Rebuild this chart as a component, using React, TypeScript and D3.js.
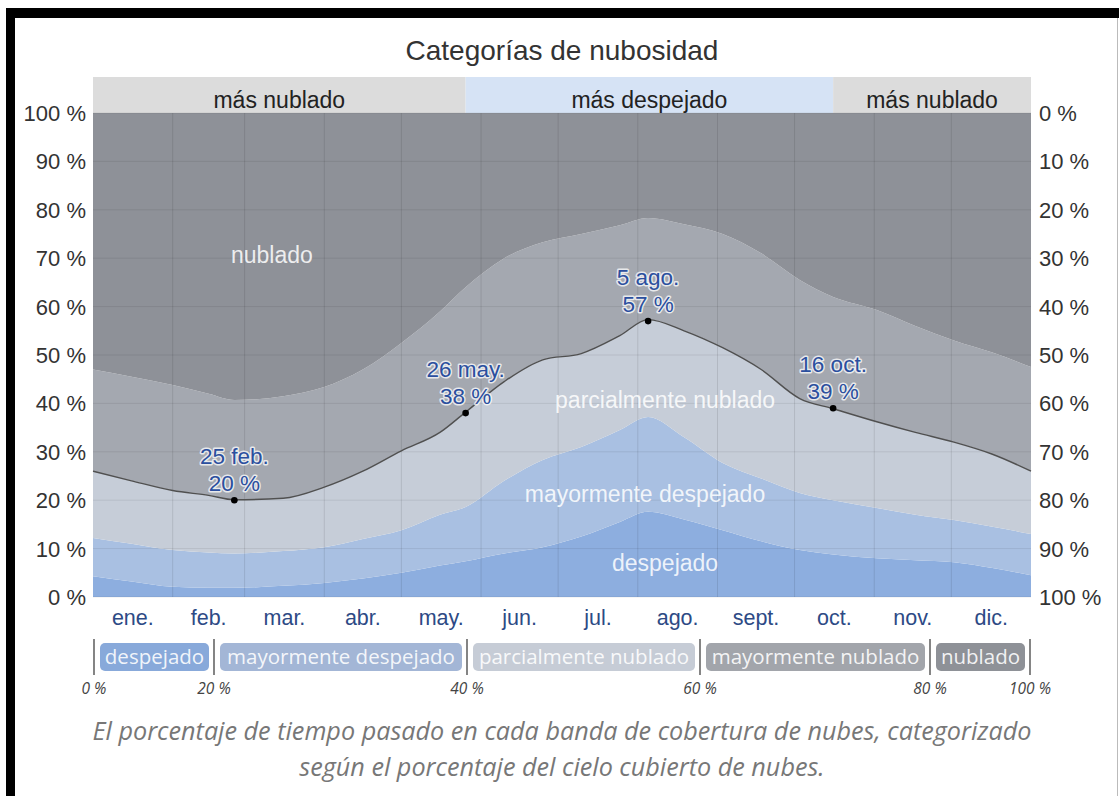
import React from "react";
import * as d3 from "d3";

// ---- data (day of year, cumulative % boundaries from bottom) ----
const days = [0, 15, 31, 45, 55, 74, 90, 105, 120, 135, 145, 160, 175, 190, 205, 216, 230, 245, 260, 275, 288, 305, 320, 335, 350, 365];
const clearTop = [4.3, 3.2, 2.1, 1.9, 1.9, 2.3, 2.9, 3.8, 5, 6.5, 7.4, 9, 10.3, 12.5, 15.5, 17.6, 16, 13.8, 11.5, 9.7, 8.8, 8, 7.6, 7.2, 6, 4.5];
const mostlyClearTop = [12.2, 11, 9.7, 9.2, 9.0, 9.5, 10.3, 12, 13.8, 17, 18.6, 24, 28.3, 31, 34.5, 37.2, 33, 27.7, 24.5, 21.5, 20, 18.4, 17, 15.9, 14.5, 13];
const partlyCloudyTop = [26, 24, 22, 21, 20.1, 20.4, 22.7, 26, 30.2, 34, 38.2, 44.5, 49, 50.3, 54, 57.3, 55, 51.5, 47, 41, 38.9, 36.2, 34, 32, 29.5, 26];
const mostlyCloudyTop = [47, 45.5, 43.8, 42, 40.7, 41.5, 43.4, 47, 52.5, 59, 64, 70, 73.3, 75, 76.8, 78.3, 77, 75, 71, 65.5, 62, 59.3, 56, 53, 50.5, 47.5];

const categories = ["despejado", "mayormente despejado", "parcialmente nublado", "mayormente nublado", "nublado"];
const bandColors = ["#8daedf", "#a9c0e2", "#c6cdd8", "#a4a8b0", "#8e9198"];
const legendColors = ["#88a9da", "#a3b6d6", "#c6ccd6", "#a2a5ab", "#8e9197"];

const months = ["ene.", "feb.", "mar.", "abr.", "may.", "jun.", "jul.", "ago.", "sept.", "oct.", "nov.", "dic."];
const monthStarts = [0, 31, 59, 90, 120, 151, 181, 212, 243, 273, 304, 334, 365];

const yTicks = [0, 10, 20, 30, 40, 50, 60, 70, 80, 90, 100];

const annotDays = [55, 145, 216, 288];
const annotValues = [20, 38, 57, 39];
const annotLabels = ["25 feb.", "26 may.", "5 ago.", "16 oct."];

const headerSegments = [
  { from: 0, to: 145, label: "más nublado", clear: false },
  { from: 145, to: 288, label: "más despejado", clear: true },
  { from: 288, to: 365, label: "más nublado", clear: false },
];

const bandLabels = [
  { text: "nublado", day: 69.6, value: 70.7 },
  { text: "parcialmente nublado", day: 222.6, value: 40.7 },
  { text: "mayormente despejado", day: 214.8, value: 21.3 },
  { text: "despejado", day: 222.6, value: 7 },
];

const legendPercents = ["0 %", "20 %", "40 %", "60 %", "80 %", "100 %"];

const W = 1119;
const H = 796;
const M = { left: 93, right: 1031, top: 113, bottom: 597 };
const ARIAL = "'Liberation Sans', Arial, sans-serif";
const OPEN = "'Open Sans', sans-serif";

export default function App() {
  const x = d3.scaleLinear().domain([0, 365]).range([M.left, M.right]);
  const y = d3.scaleLinear().domain([0, 100]).range([M.bottom, M.top]);
  const yRight = d3.scaleLinear().domain([0, 100]).range([M.top, M.bottom]);

  const bounds = [
    days.map(() => 0),
    clearTop,
    mostlyClearTop,
    partlyCloudyTop,
    mostlyCloudyTop,
    days.map(() => 100),
  ];

  const curve = d3.curveMonotoneX;
  const bands = categories.map((c, i) => {
    const area = d3
      .area<number>()
      .x((d) => x(d))
      .y0((_, j) => y(bounds[i][j]))
      .y1((_, j) => y(bounds[i + 1][j]))
      .curve(curve);
    return { c, path: area(days) as string, color: bandColors[i] };
  });

  const linePath = d3
    .line<number>()
    .x((d) => x(d))
    .y((_, j) => y(partlyCloudyTop[j]))
    .curve(curve)(days) as string;

  // legend layout
  const sepX = [94, 214, 467, 700, 930, 1030];
  const legY = 643;
  const legH = 28;

  return (
    <div style={{ position: "absolute", left: 0, top: 0, width: W, height: H, background: "#fff" }}>
      <svg width={W} height={H} style={{ display: "block" }}>
        <rect x={0} y={0} width={W} height={H} fill="#fff" />
        {/* frame */}
        <rect x={6} y={8} width={W - 6} height={10} fill="#000" />
        <rect x={6} y={8} width={9} height={H - 8} fill="#000" />
        <line x1={1117.5} y1={18} x2={1117.5} y2={H} stroke="#bbb" />

        {/* title */}
        <text x={562} y={60} textAnchor="middle" fontFamily={ARIAL} fontSize={28} fill="#333">
          Categorías de nubosidad
        </text>

        {/* header band */}
        {headerSegments.map((s, i) => (
          <g key={i}>
            <rect x={x(s.from)} y={77} width={x(s.to) - x(s.from)} height={M.top - 77} fill={s.clear ? "#d6e3f5" : "#dcdcdc"} />
            <text x={(x(s.from) + x(s.to)) / 2} y={108} textAnchor="middle" fontFamily={ARIAL} fontSize={23} fill="#222">
              {s.label}
            </text>
          </g>
        ))}

        {/* bands */}
        {bands.map((b) => (
          <path key={b.c} d={b.path} fill={b.color} />
        ))}

        {/* grid */}
        {yTicks.map((t) => (
          <line key={"h" + t} x1={M.left} x2={M.right} y1={y(t)} y2={y(t)} stroke="#000" strokeOpacity={0.08} />
        ))}
        {monthStarts.slice(1, -1).map((d) => (
          <line key={"v" + d} x1={x(d)} x2={x(d)} y1={M.top} y2={M.bottom} stroke="#000" strokeOpacity={0.1} />
        ))}

        {/* line */}
        <path d={linePath} fill="none" stroke="#505050" strokeWidth={1.4} />

        {/* band labels */}
        {bandLabels.map((l) => (
          <text key={l.text} x={x(l.day)} y={y(l.value)} dy="0.35em" textAnchor="middle" fontFamily={ARIAL} fontSize={23} fill="#fff" fillOpacity={0.85}>
            {l.text}
          </text>
        ))}

        {/* annotations */}
        {annotDays.map((d, i) => (
          <g key={"a" + i}>
            <circle cx={x(d)} cy={y(annotValues[i])} r={3.3} fill="#000" />
            {[annotLabels[i], annotValues[i] + " %"].map((t, k) => (
              <text key={k} x={x(d)} y={y(annotValues[i]) - 36 + k * 27} textAnchor="middle" fontFamily={ARIAL} fontSize={22.5}
                fill="#2b4f9e" stroke="#fff" strokeOpacity={0.75} strokeWidth={3} paintOrder="stroke" strokeLinejoin="round">
                {t}
              </text>
            ))}
          </g>
        ))}

        {/* left axis */}
        {yTicks.map((t) => (
          <text key={"l" + t} x={86} y={y(t)} dy="0.36em" textAnchor="end" fontFamily={ARIAL} fontSize={22} fill="#333">
            {t} %
          </text>
        ))}
        {/* right axis */}
        {yTicks.map((t) => (
          <text key={"r" + t} x={1039} y={yRight(t)} dy="0.36em" textAnchor="start" fontFamily={ARIAL} fontSize={22} fill="#333">
            {t} %
          </text>
        ))}

        {/* months */}
        {months.map((m, i) => (
          <text key={m} x={x((monthStarts[i] + monthStarts[i + 1]) / 2)} y={625} textAnchor="middle" fontFamily={ARIAL} fontSize={21.5} fill="#2d4a85">
            {m}
          </text>
        ))}

        {/* legend */}
        {sepX.map((sx, i) => (
          <line key={"s" + i} x1={sx} x2={sx} y1={legY - 4} y2={legY + legH + 4} stroke="#333" strokeWidth={1.2} />
        ))}
        {categories.map((c, i) => {
          const x0 = sepX[i] + 6;
          const x1 = sepX[i + 1] - 5;
          return (
            <g key={"lg" + c}>
              <rect x={x0} y={legY} width={x1 - x0} height={legH} rx={5} fill={legendColors[i]} />
              <text x={(x0 + x1) / 2} y={legY + legH / 2} dy="0.36em" textAnchor="middle" fontFamily={OPEN} fontSize={20.5} fill="#fff" fillOpacity={0.9}>
                {c}
              </text>
            </g>
          );
        })}
        {legendPercents.map((p, i) => (
          <text key={"p" + i} x={sepX[i]} y={694} textAnchor="middle" fontFamily={OPEN} fontStyle="italic" fontSize={15.5} fill="#444">
            {p}
          </text>
        ))}

        {/* caption */}
        <text x={562} y={740} textAnchor="middle" fontFamily={OPEN} fontStyle="italic" fontSize={25.2} fill="#777">
          El porcentaje de tiempo pasado en cada banda de cobertura de nubes, categorizado
        </text>
        <text x={562} y={776} textAnchor="middle" fontFamily={OPEN} fontStyle="italic" fontSize={25.2} fill="#777">
          según el porcentaje del cielo cubierto de nubes.
        </text>
      </svg>
    </div>
  );
}
